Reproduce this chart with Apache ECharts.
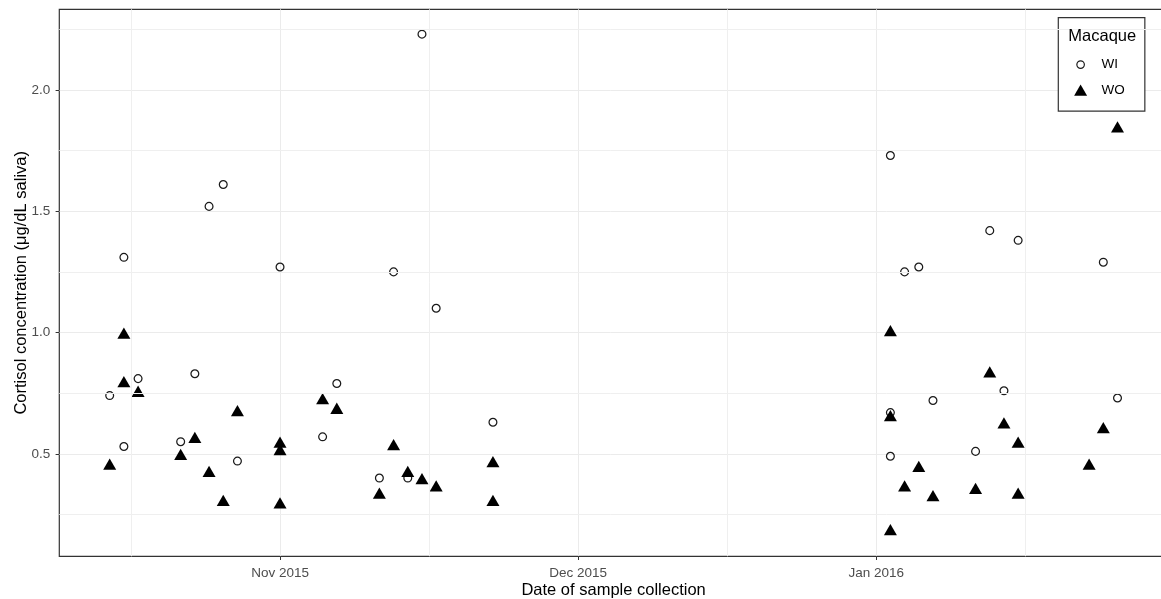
<!DOCTYPE html>
<html>
<head>
<meta charset="utf-8">
<script src="https://cdn.jsdelivr.net/npm/echarts@6/dist/echarts.min.js"></script>
<style>
html,body{margin:0;padding:0;background:#fff}
#chart{width:1161px;height:599px}
</style>
</head>
<body>
<div id="chart"></div>
<script>
// ---- data ----
const wiDates = ['2015-11-11','2015-11-12','2015-11-12','2015-11-13','2015-11-16','2015-11-17','2015-11-18','2015-11-19','2015-11-20',
  '2015-11-23','2015-11-26','2015-11-27','2015-11-30','2015-12-01','2015-12-02','2015-12-03','2015-12-04','2015-12-08',
  '2016-01-05','2016-01-05','2016-01-05','2016-01-06','2016-01-07','2016-01-08','2016-01-11','2016-01-12','2016-01-13','2016-01-14',
  '2016-01-20','2016-01-21'];
const wiValues = [0.74,1.31,0.53,0.81,0.55,0.83,1.52,1.61,0.47,
  1.27,0.57,0.79,0.40,1.25,0.40,2.23,1.10,0.63,
  1.73,0.67,0.49,1.25,1.27,0.72,0.51,1.42,0.76,1.38,
  1.29,0.73];
const woDates = ['2015-11-11','2015-11-12','2015-11-12','2015-11-13','2015-11-16','2015-11-17','2015-11-18','2015-11-19','2015-11-20',
  '2015-11-23','2015-11-23','2015-11-23','2015-11-26','2015-11-27','2015-11-30','2015-12-01','2015-12-02','2015-12-03','2015-12-04',
  '2015-12-08','2015-12-08','2016-01-05','2016-01-05','2016-01-05','2016-01-06','2016-01-07','2016-01-08','2016-01-11','2016-01-12',
  '2016-01-13','2016-01-14','2016-01-14','2016-01-19','2016-01-20','2016-01-21'];
const woValues = [0.45,0.99,0.79,0.75,0.49,0.56,0.42,0.30,0.67,
  0.54,0.51,0.29,0.72,0.68,0.33,0.53,0.42,0.39,0.36,
  0.46,0.30,1.00,0.65,0.18,0.36,0.44,0.32,0.35,0.83,
  0.62,0.54,0.33,0.45,0.60,1.84];

const seriesNames = ['WI','WO'];
const legendTitle = 'Macaque';
const xTitle = 'Date of sample collection';
const yTitle = 'Cortisol concentration (\u03bcg/dL saliva)';

const xBreaks = ['2015-11-23','2015-12-14','2016-01-04'];
const xBreakLabels = ['Nov 2015','Dec 2015','Jan 2016'];
const xMinorBreaks = ['2015-11-12 12:00','2015-12-03 12:00','2015-12-24 12:00','2016-01-14 12:00'];
const yBreaks = [0.5, 1.0, 1.5, 2.0];
const yMinorBreaks = [0.25, 0.75, 1.25, 1.75, 2.25];

// ---- helpers ----
function toTime(s){
  const parts = s.split(' ');
  const d = parts[0].split('-').map(Number);
  let h = 0, mi = 0;
  if (parts[1]) { const t = parts[1].split(':').map(Number); h = t[0]; mi = t[1]; }
  return Date.UTC(d[0], d[1]-1, d[2], h, mi);
}
const FONT = '"Liberation Sans", Arial, sans-serif';

const wiData = wiDates.map((d,i)=>[toTime(d), wiValues[i]]);
const woData = woDates.map((d,i)=>[toTime(d), woValues[i]]);

const allX = wiData.concat(woData).map(p=>p[0]);
const allY = wiValues.concat(woValues);
const xLo = Math.min(...allX), xHi = Math.max(...allX);
const yLo = Math.min(...allY), yHi = Math.max(...allY);
const xPad = (xHi - xLo) * 0.05, yPad = (yHi - yLo) * 0.05;

const xBreakTimes = xBreaks.map(toTime);
const xMinorTimes = xMinorBreaks.map(toTime);

const circleIcon = 'path://M0,0M14,14M7,3.25A3.75,3.75,0,1,1,7,10.75A3.75,3.75,0,1,1,7,3.25Z';
const triIcon = 'path://M0,0M14,14M7,1.35L13.5,12.65L0.5,12.65Z';

const chart = echarts.init(document.getElementById('chart'), null, {renderer:'canvas'});
chart.setOption({
  animation: false,
  backgroundColor: '#fff',
  textStyle: {fontFamily: FONT},
  grid: {
    left: 59.3, top: 9.3, width: 1108.6, height: 547,
    show: true, borderColor: '#333333', borderWidth: 1.2, backgroundColor: 'transparent',
    containLabel: false, outerBoundsMode: 'none'
  },
  title: {
    text: legendTitle, left: 1068.3, top: 27.5, padding: 0, z: 10,
    textStyle: {fontFamily: FONT, fontSize: 16.5, fontWeight: 'normal', color: '#000'}
  },
  legend: {
    orient: 'vertical', left: 1058.3, top: 17.7,
    data: [
      {name: seriesNames[0], icon: circleIcon, itemStyle: {color: 'rgba(255,255,255,0)', borderColor: '#1a1a1a', borderWidth: 1.2}},
      {name: seriesNames[1], icon: triIcon, itemStyle: {color: '#000', borderWidth: 0}}
    ],
    itemWidth: 32, itemHeight: 14, itemGap: 11,
    padding: [39.3, 20, 14, 14.7],
    borderColor: '#333333', borderWidth: 1.2, backgroundColor: '#fff',
    selectedMode: false,
    textStyle: {fontFamily: FONT, fontSize: 13.5, color: '#000', lineHeight: 14}
  },
  xAxis: {
    type: 'value',
    min: xLo - xPad, max: xHi + xPad,
    name: xTitle, nameLocation: 'middle', nameGap: 26, nameMoveOverlap: false,
    nameTextStyle: {fontFamily: FONT, fontSize: 16.5, color: '#000'},
    axisLine: {show: false},
    axisTick: {show: true, customValues: xBreakTimes, length: 3.7, lineStyle: {color: '#333333', width: 1}},
    axisLabel: {
      customValues: xBreakTimes, margin: 10, fontFamily: FONT, fontSize: 13.5, color: '#4D4D4D',
      formatter: function(v){
        const i = xBreakTimes.findIndex(t => Math.abs(t - v) < 3600e3);
        return i >= 0 ? xBreakLabels[i] : '';
      }
    },
    splitLine: {show: true, lineStyle: {color: '#EBEBEB', width: 1}},
    axisPointer: {show: false}
  },
  yAxis: {
    type: 'value',
    min: yLo - yPad, max: yHi + yPad,
    name: yTitle, nameLocation: 'middle', nameGap: 29, nameMoveOverlap: false,
    nameTextStyle: {fontFamily: FONT, fontSize: 16.5, color: '#000'},
    axisLine: {show: false},
    axisTick: {show: true, customValues: yBreaks, length: 3.7, lineStyle: {color: '#333333', width: 1}},
    axisLabel: {
      customValues: yBreaks, margin: 9, fontFamily: FONT, fontSize: 13.5, color: '#4D4D4D',
      formatter: v => Number(v).toFixed(1)
    },
    splitLine: {show: true, lineStyle: {color: '#EBEBEB', width: 1}}
  },
  series: [
    {
      type: 'scatter', name: 'minor-grid', data: [], z: 1, silent: true,
      markLine: {
        silent: true, animation: false, symbol: ['none','none'],
        label: {show: false},
        lineStyle: {color: '#EFEFEF', width: 1, type: 'solid'},
        emphasis: {disabled: true},
        data: xMinorTimes.map(t => ({xAxis: t})).concat(yMinorBreaks.map(v => ({yAxis: v})))
      }
    },
    {
      type: 'scatter', name: seriesNames[0], data: wiData, z: 3,
      symbol: 'circle', symbolSize: 7.8,
      itemStyle: {color: 'rgba(255,255,255,0)', borderColor: '#1a1a1a', borderWidth: 1.25, opacity: 1}
    },
    {
      type: 'scatter', name: seriesNames[1], data: woData, z: 4,
      symbol: 'triangle', symbolSize: [13, 11.3], symbolOffset: [0, -1.9],
      itemStyle: {color: '#000000', opacity: 1}
    }
  ]
});
</script>
</body>
</html>
